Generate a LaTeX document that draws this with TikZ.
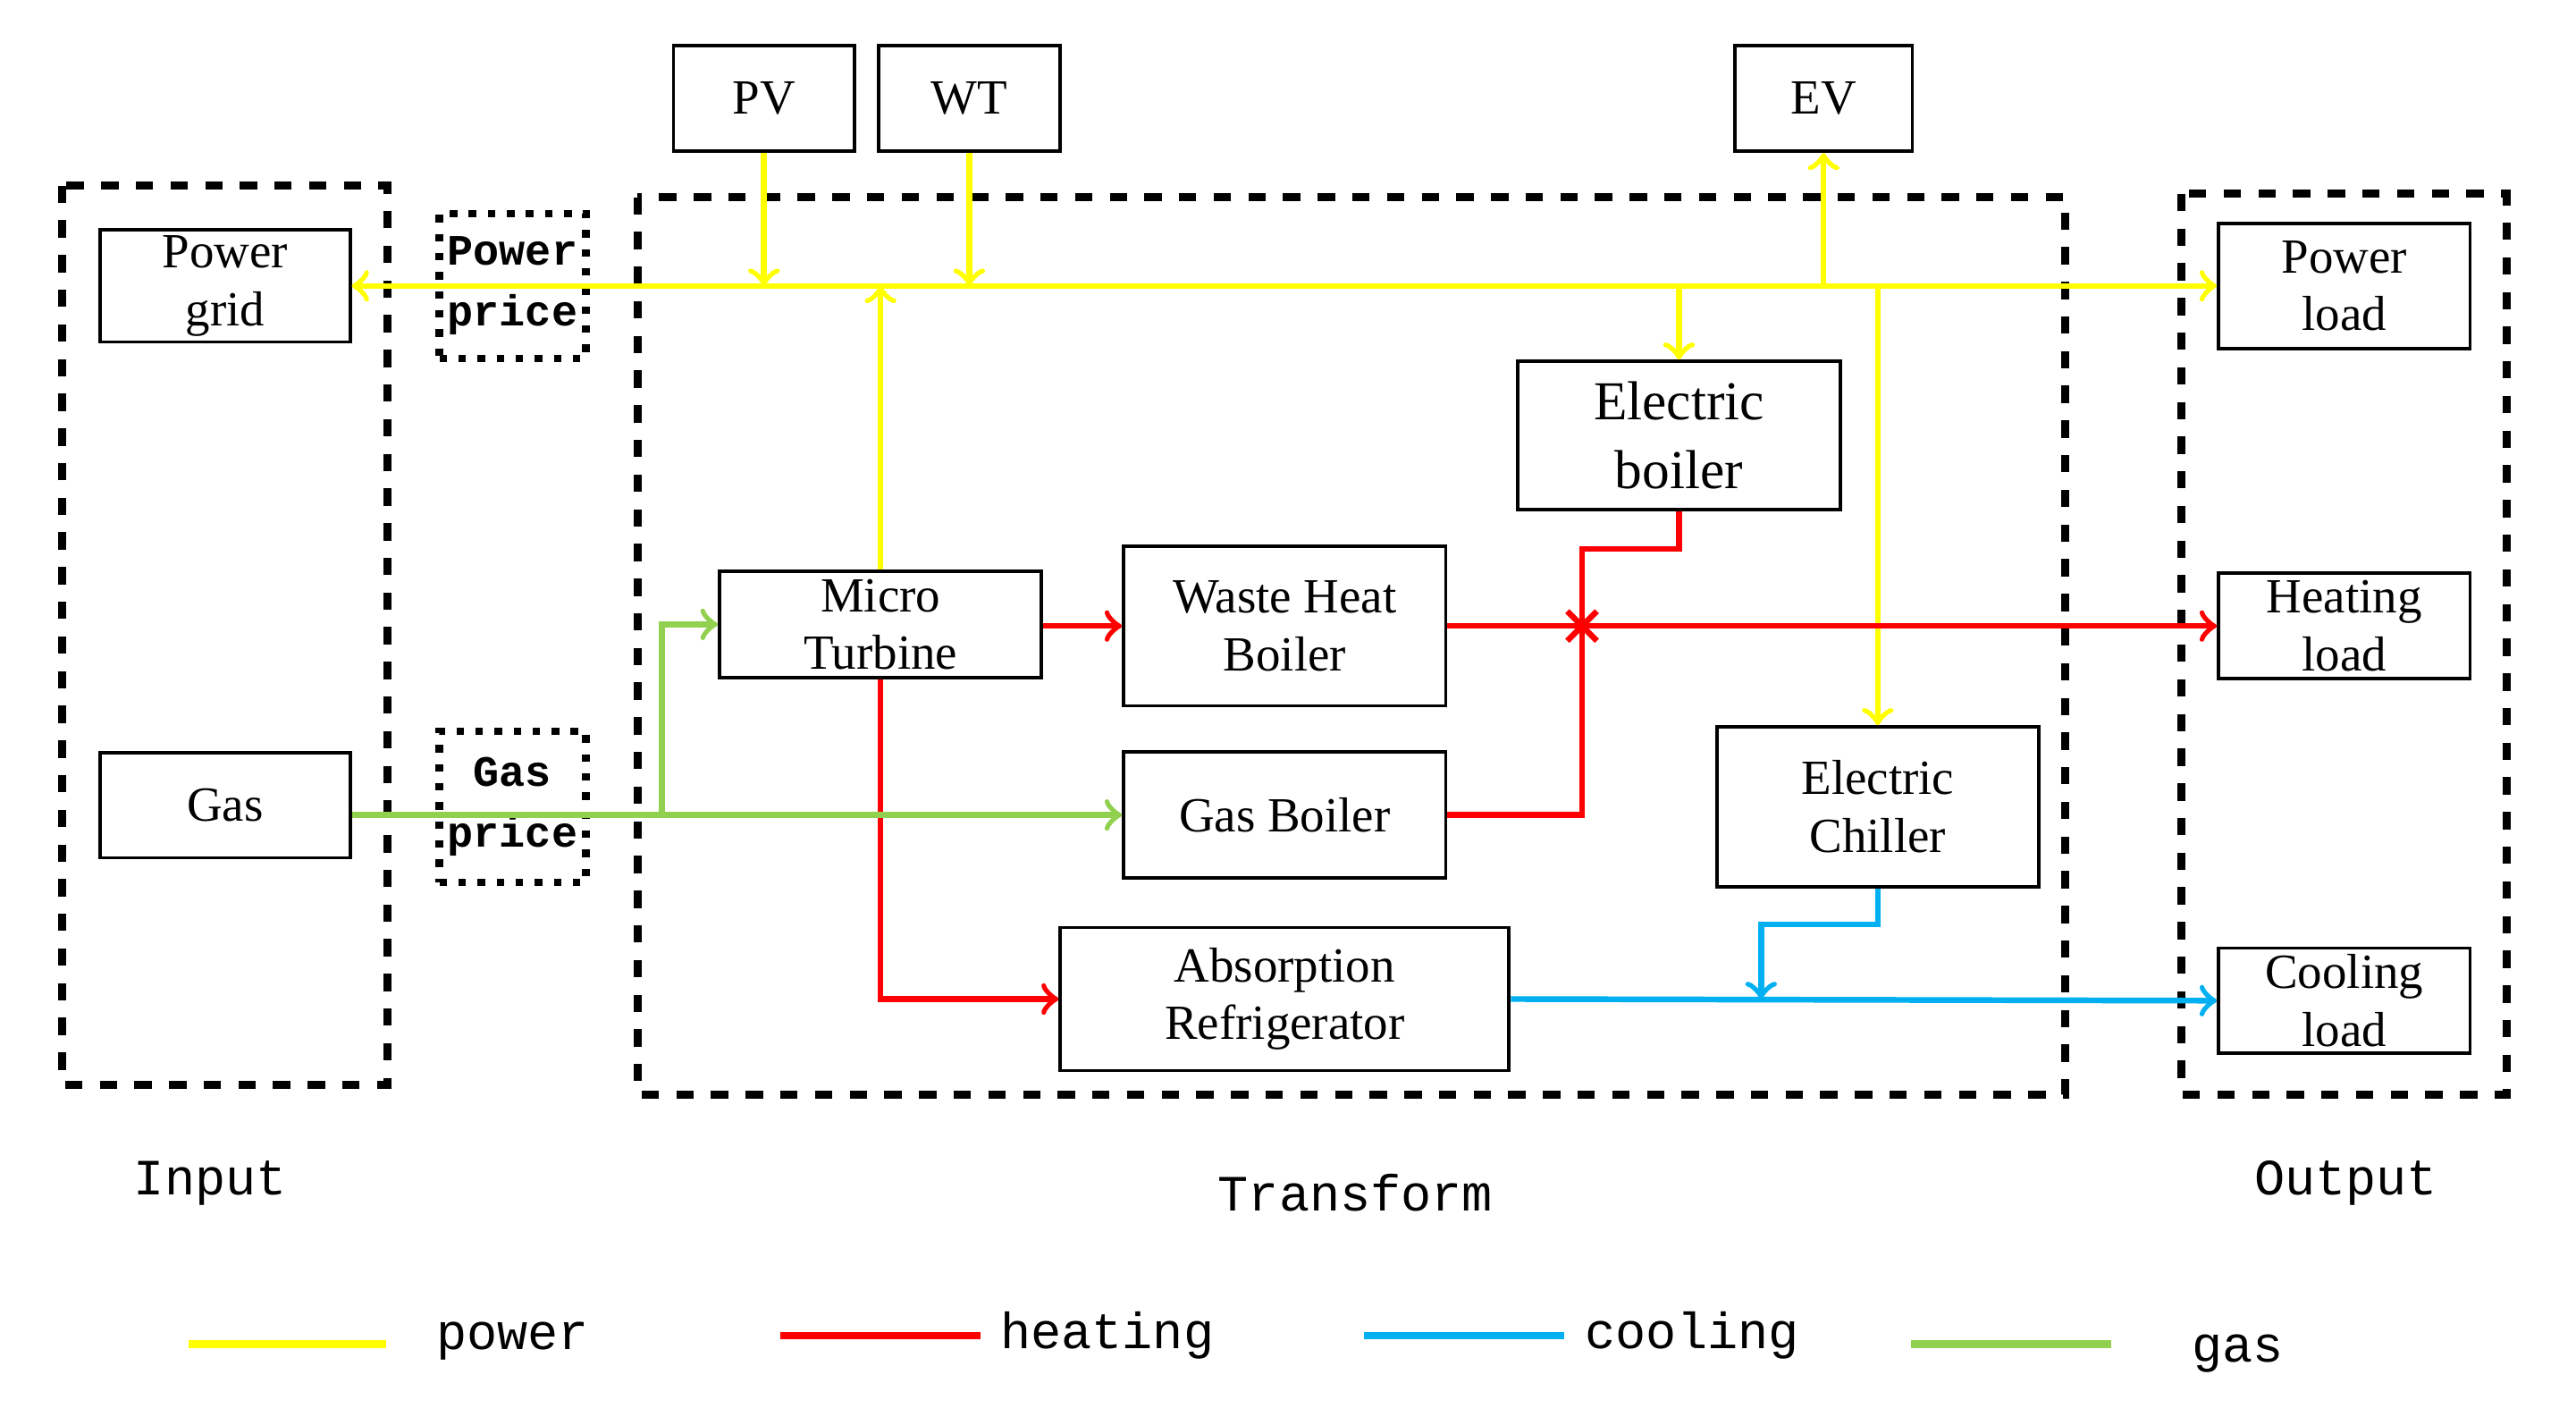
\documentclass[tikz,border=0pt]{standalone}
\usepackage{fontspec}
\setmainfont{Liberation Serif}
\newfontfamily\monofont{Liberation Mono}
\usetikzlibrary{arrows}
\definecolor{pwr}{RGB}{255,255,0}
\definecolor{heat}{RGB}{255,0,0}
\definecolor{cool}{RGB}{0,176,240}
\definecolor{gasc}{RGB}{146,208,80}
\begin{document}
\begin{tikzpicture}[x=0.01cm,y=-0.01cm,>=to]
  % styles
  \tikzstyle{unit} = [rectangle,draw=black,line width=0.6pt,inner sep=1pt,align=center,font=\fontsize{8.5}{10}\selectfont];
  \tikzstyle{price} = [rectangle,draw=black,dotted,line width=1.3pt,inner sep=1pt,align=center,minimum width=0.89cm,font=\monofont\bfseries\fontsize{7.5}{10.5}\selectfont];
  \tikzstyle{zone} = [draw=black,dashed,line width=1.4pt];
  \tikzstyle{tag} = [font=\monofont\fontsize{8.8}{11}\selectfont];
  \tikzstyle{pl} = [draw=pwr,line width=1pt];
  \tikzstyle{hl} = [draw=heat,line width=1pt];
  \tikzstyle{cl} = [draw=cool,line width=1pt];
  \tikzstyle{gl} = [draw=gasc,line width=1pt];

  \useasboundingbox (0,0) rectangle (1568,862);

  % zones
  \draw[zone] (38,113) rectangle (236,660);
  \draw[zone] (388,120) rectangle (1257,666);
  \draw[zone] (1328,118) rectangle (1526,666);

  % nodes
  \node[unit,minimum width=1.1cm,minimum height=0.64cm] (pv) at (465,60) {PV};
  \node[unit,minimum width=1.1cm,minimum height=0.64cm] (wt) at (590,60) {WT};
  \node[unit,minimum width=1.08cm,minimum height=0.64cm] (ev) at (1110,60) {EV};
  \node[unit,minimum width=1.52cm,minimum height=0.65cm] (grid) at (137,174) {Power\\grid};
  \node[unit,minimum width=1.52cm,minimum height=0.64cm] (gas) at (137,490) {Gas};
  \node[price,minimum height=0.88cm] (pprice) at (312,174) {Power\\price};
  \node[price,minimum height=0.92cm] (gprice) at (312,491) {Gas\\price};
  \node[unit,minimum width=1.96cm,minimum height=0.65cm] (mt) at (536,380) {Micro\\Turbine};
  \node[unit,minimum width=1.96cm,minimum height=0.97cm] (whb) at (782,381) {Waste Heat\\Boiler};
  \node[unit,minimum width=1.96cm,minimum height=0.77cm] (gb) at (782,496) {Gas Boiler};
  \node[unit,minimum width=1.96cm,minimum height=0.9cm,font=\fontsize{9.5}{12}\selectfont] (eb) at (1022,265) {Electric\\boiler};
  \node[unit,minimum width=1.96cm,minimum height=0.97cm] (ec) at (1143,491) {Electric\\Chiller};
  \node[unit,minimum width=2.73cm,minimum height=0.87cm] (ar) at (782,608) {Absorption\\Refrigerator};
  \node[unit,minimum width=1.53cm,minimum height=0.76cm] (pload) at (1427,174) {Power\\load};
  \node[unit,minimum width=1.53cm,minimum height=0.64cm] (hload) at (1427,381) {Heating\\load};
  \node[unit,minimum width=1.53cm,minimum height=0.64cm] (cload) at (1427,609) {Cooling\\load};
  \coordinate (bus) at (1110,174);
  \coordinate (mix) at (963,381);
  \coordinate (cmix) at (1072,608);

  % power
  \draw[pl,<->] (grid.east) -- (pload.west);
  \draw[pl,->] (pv.south) -- (pv.south |- grid.east);
  \draw[pl,->] (wt.south) -- (wt.south |- grid.east);
  \draw[pl,->] (mt.north) -- (mt.north |- grid.east);
  \draw[pl,->] (bus) -- (ev.south);
  \draw[pl,->] (eb.north |- grid.east) -- (eb.north);
  \draw[pl,->] (ec.north |- grid.east) -- (ec.north);

  % heating
  \draw[hl,->] (mt.east |- whb.west) -- (whb.west);
  \draw[hl,->] (whb.east) -- (hload.west);
  \draw[hl] (eb.south) -- ++(0,23) -| (mix);
  \draw[hl] (gb.east) -| (mix);
  \draw[hl] ([shift={(-9,-9)}]mix) -- ([shift={(9,9)}]mix) ([shift={(-9,9)}]mix) -- ([shift={(9,-9)}]mix);
  \draw[hl,->] (mt.south) |- (ar.west);

  % cooling
  \draw[cl,->] (ar.east) -- (cload.west);
  \draw[cl,->] (ec.south) -- ++(0,22) -| (cmix);

  % gas
  \draw[gl,->] (gas.east |- gb.west) -- (gb.west);
  \draw[gl,->] (403,496) |- (mt.west);

  % labels
  \node[tag] (lin) at (128,720) {Input};
  \node[tag] (ltr) at (825,726) {Transform};
  \node[tag] (lout) at (1428,720) {Output};

  % legend
  \coordinate (a1) at (115,818); \coordinate (b1) at (235,818);
  \coordinate (a2) at (475,813); \coordinate (b2) at (597,813);
  \coordinate (a3) at (830,813); \coordinate (b3) at (952,813);
  \coordinate (a4) at (1163,818); \coordinate (b4) at (1285,818);
  \draw[pl,line width=1.3pt] (a1) -- (b1);
  \draw[hl,line width=1.3pt] (a2) -- (b2);
  \draw[cl,line width=1.3pt] (a3) -- (b3);
  \draw[gl,line width=1.3pt] (a4) -- (b4);
  \node[tag] (tp) at (312,816) {power};
  \node[tag] (th) at (674,813) {heating};
  \node[tag] (tc) at (1030,813) {cooling};
  \node[tag] (tg) at (1362,824) {gas};
\end{tikzpicture}
\end{document}
